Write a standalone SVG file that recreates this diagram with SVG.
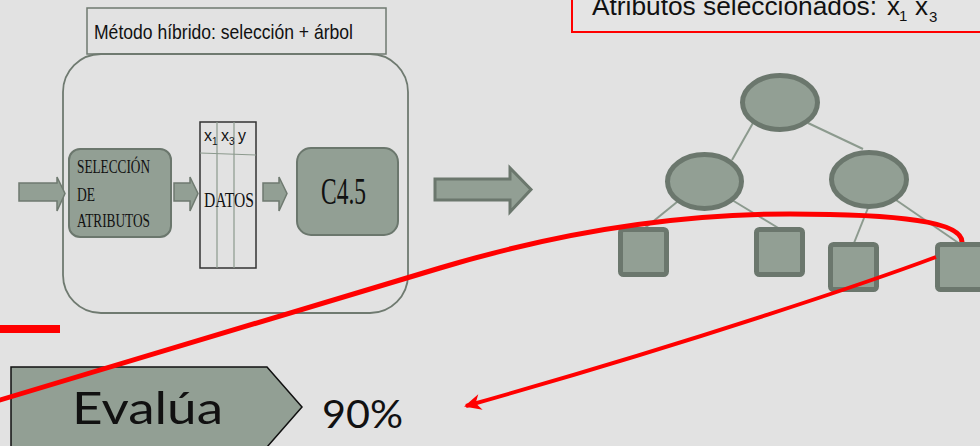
<svg xmlns="http://www.w3.org/2000/svg" width="980" height="446" viewBox="0 0 980 446">
<defs>
<style>
.box{fill:#929f94;stroke:#6b776d;stroke-width:2}
.arr{fill:#929f94;stroke:#6f7a70;stroke-width:1.5}
.big{fill:#929f94;stroke:#6b776d;stroke-width:3}
.tn{fill:#929f94;stroke:#6b776d;stroke-width:5}
.edge{stroke:#8c9a8e;stroke-width:2;fill:none}
.serif{font-family:"Liberation Serif","DejaVu Serif",serif;fill:#111}
.sans{font-family:"Liberation Sans",Arial,sans-serif;fill:#111}
.geo{font-family:"Lato","Open Sans",sans-serif;fill:#111}
.red{stroke:#ff0000;fill:none}
</style>
<marker id="ah" markerUnits="userSpaceOnUse" markerWidth="20" markerHeight="20" viewBox="0 0 20 20" refX="17" refY="10" orient="auto">
<path d="M19,10 L2,2 L7,10 L2,18 Z" fill="#ff0000"/>
</marker>
</defs>
<rect width="980" height="446" fill="#e2e2e2"/>

<g id="header">
<rect x="572" y="-10" width="420" height="42" fill="#e4e4e4" stroke="#ff0000" stroke-width="2"/>
<text class="sans" font-size="26" y="15"><tspan x="592" textLength="285" lengthAdjust="spacingAndGlyphs">Atributos seleccionados:</tspan><tspan x="887">x</tspan><tspan x="899" y="21" font-size="15">1</tspan><tspan x="915" y="15">x</tspan><tspan x="929" y="22" font-size="15">3</tspan></text>
</g>

<g id="method">
<rect x="87" y="8" width="299" height="46" fill="none" stroke="#6f7a70" stroke-width="1.5"/>
<text class="sans" x="94" y="39" font-size="21" textLength="259" lengthAdjust="spacingAndGlyphs">Método híbrido: selección + árbol</text>
<rect x="63" y="54" width="345" height="259" rx="38" ry="38" fill="none" stroke="#6f7a70" stroke-width="1.8"/>
</g>

<g id="arrow-in">
<path class="arr" d="M19,183 L57,183 L57,177 L65,193.5 L57,211 L57,201 L19,201 Z"/>
</g>

<g id="seleccion">
<rect class="box" x="69" y="149" width="102" height="88" rx="11"/>
<text class="serif" font-size="19"><tspan x="77" y="173" textLength="73" lengthAdjust="spacingAndGlyphs">SELECCIÓN</tspan><tspan x="77" y="201" textLength="18" lengthAdjust="spacingAndGlyphs">DE</tspan><tspan x="77" y="227" textLength="73" lengthAdjust="spacingAndGlyphs">ATRIBUTOS</tspan></text>
</g>

<g id="arrow-2">
<path class="arr" d="M174,183 L190,183 L190,177 L198,193.5 L190,211 L190,201 L174,201 Z"/>
</g>

<g id="datos">
<rect x="200" y="122" width="56" height="146" fill="none" stroke="#333" stroke-width="1.5"/>
<line x1="217" y1="122" x2="217" y2="268" stroke="#8c9a8e" stroke-width="1.2"/>
<line x1="234" y1="122" x2="234" y2="268" stroke="#8c9a8e" stroke-width="1.2"/>
<line x1="200" y1="153" x2="256" y2="155" stroke="#8c9a8e" stroke-width="1.2"/>
<text class="sans" font-size="16"><tspan x="204" y="141" textLength="8" lengthAdjust="spacingAndGlyphs">x</tspan><tspan x="212" y="145" font-size="10">1</tspan><tspan x="221" y="141" textLength="8" lengthAdjust="spacingAndGlyphs">x</tspan><tspan x="229" y="145" font-size="10">3</tspan><tspan x="238" y="141" textLength="8" lengthAdjust="spacingAndGlyphs">y</tspan></text>
<text class="serif" x="204" y="207" font-size="21" textLength="50" lengthAdjust="spacingAndGlyphs">DATOS</text>
</g>

<g id="arrow-3">
<path class="arr" d="M263,183 L279,183 L279,177 L287,193.5 L279,211 L279,201 L263,201 Z"/>
</g>

<g id="c45">
<rect class="box" x="297" y="148" width="101" height="87" rx="14"/>
<text class="serif" x="321" y="204" font-size="38" textLength="45" lengthAdjust="spacingAndGlyphs">C4.5</text>
</g>

<g id="arrow-big">
<path class="big" d="M435,179 L510,179 L510,168 L531,189.5 L510,212 L510,200 L435,200 Z"/>
</g>

<g id="connectors">
<line class="edge" x1="753" y1="123" x2="732" y2="160"/>
<line class="edge" x1="808" y1="123" x2="863" y2="149"/>
<line class="edge" x1="677" y1="202" x2="645" y2="228"/>
<line class="edge" x1="732" y1="200" x2="780" y2="229"/>
<line class="edge" x1="868" y1="208" x2="854" y2="243"/>
<line class="edge" x1="896" y1="200" x2="960" y2="244"/>
</g>

<g id="root"><ellipse class="tn" cx="780" cy="102.5" rx="37.5" ry="27"/></g>
<g id="n-left"><ellipse class="tn" cx="704.5" cy="181.5" rx="37" ry="27"/></g>
<g id="n-right"><ellipse class="tn" cx="869" cy="179.5" rx="37.5" ry="27"/></g>
<g id="leaf1"><rect class="tn" x="620.5" y="229.5" width="46" height="45" rx="3"/></g>
<g id="leaf2"><rect class="tn" x="756.5" y="229.5" width="46" height="45" rx="3"/></g>
<g id="leaf3"><rect class="tn" x="830.5" y="244.5" width="46" height="45" rx="3"/></g>
<g id="leaf4"><rect class="tn" x="937.5" y="244.5" width="46" height="45" rx="3"/></g>

<g id="evalua">
<path d="M11,367 L267,367 L302,407 L267,447 L11,447 Z" fill="#929f94" stroke="#111" stroke-width="1.5"/>
<text class="geo" x="72" y="424" font-size="44" textLength="151" lengthAdjust="spacingAndGlyphs">Evalúa</text>
</g>

<g id="result">
<text class="geo" x="322" y="428" font-size="38" textLength="81" lengthAdjust="spacingAndGlyphs">90%</text>
</g>

<g id="annotations">
<rect x="0" y="325" width="60" height="8" fill="#ff0000"/>
<path class="red" stroke-width="5" d="M-5,401.5 L440,268 C560,232 680,214 790,214 C900,214 962,222 962,242"/>
<path class="red" stroke-width="4" d="M936,257 C880,278 700,340 466,406" marker-end="url(#ah)"/>
</g>
</svg>
